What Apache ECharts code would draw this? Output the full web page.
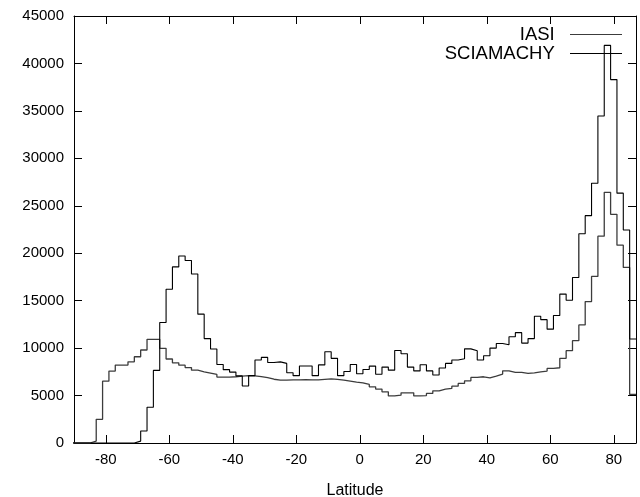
<!DOCTYPE html>
<html>
<head>
<meta charset="utf-8">
<script src="https://cdn.jsdelivr.net/npm/echarts@6/dist/echarts.min.js"></script>
<style>
html,body{margin:0;padding:0;background:#fff;}
#chart{width:640px;height:497px;}
</style>
</head>
<body>
<div id="chart"></div>
<script>
// Bin centres (degrees latitude), 2-degree bins
const latitudes = [-90,-88,-86,-84,-82,-80,-78,-76,-74,-72,-70,-68,-66,-64,-62,-60,-58,-56,-54,-52,-50,-48,-46,-44,-42,-40,-38,-36,-34,-32,-30,-28,-26,-24,-22,-20,-18,-16,-14,-12,-10,-8,-6,-4,-2,0,2,4,6,8,10,12,14,16,18,20,22,24,26,28,30,32,34,36,38,40,42,44,46,48,50,52,54,56,58,60,62,64,66,68,70,72,74,76,78,80,82,84,86];

const iasi = [0,0,0,200,2500,6520,7580,8210,8210,8560,9090,9800,10930,10930,9980,8850,8450,8200,7950,7680,7500,7370,7230,6950,6950,6980,7050,7100,7080,7000,6900,6720,6630,6630,6650,6650,6680,6650,6650,6700,6750,6700,6620,6520,6420,6340,6170,5920,5680,5390,4960,5040,5290,5290,4960,5000,5220,5500,5680,5750,5990,6280,6550,6910,6980,6870,7050,7260,7610,7440,7440,7330,7400,7500,7580,7860,7930,8920,9730,10780,12440,14900,17550,21800,26420,24100,20850,18500,5115];

const sciamachy = [0,0,0,0,0,0,0,0,0,0,200,1260,3770,7650,12700,16210,18560,19700,19240,17810,13580,11000,9900,8270,7730,7470,7070,6010,7100,8740,9020,8480,8550,8390,7400,7100,8110,8110,7100,8230,9620,8920,7100,7540,8270,7300,7750,8100,7250,8000,7680,9750,9400,8000,7600,8250,7600,7160,7900,8390,8740,8880,9920,9730,8740,9200,10000,10480,10360,11200,11630,10530,11000,13350,13000,12000,13430,15690,15050,17440,22050,23960,27380,34460,41900,38300,26330,22450,10960];

const xTicks = [-80,-60,-40,-20,0,20,40,60,80];
const seriesNames = ['IASI','SCIAMACHY'];

// histogram steps: each bin spans centre +/- half bin width
function histSteps(centres, values){
  const half = (centres[1]-centres[0])/2;
  const out = centres.map((c,i)=>[c-half, values[i]]);
  out.push([centres[centres.length-1]+half, values[values.length-1]]);
  return out;
}

const FONT = 'Liberation Sans, Arial, Helvetica, sans-serif';
const chart = echarts.init(document.getElementById('chart'), null, {renderer:'canvas'});
const axisLine = {show:true, onZero:false, lineStyle:{color:'#000', width:1}};
chart.setOption({
  animation:false,
  backgroundColor:'#fff',
  textStyle:{fontFamily:FONT},
  grid:{left:74, right:4, top:16, bottom:54, containLabel:false, outerBoundsMode:'none'},
  legend:{
    data:seriesNames,
    orient:'vertical',
    right:18, top:25,
    padding:0,
    align:'right',
    icon:'rect',
    itemWidth:52, itemHeight:1,
    itemGap:0,
    formatter: name => name + '  ',
    textStyle:{fontFamily:FONT, fontSize:18.5, lineHeight:18, color:'#000'},
    selectedMode:false
  },
  xAxis:[{
    type:'value', min:-90, max:87, position:'bottom',
    name:'Latitude', nameLocation:'middle', nameGap:40,
    nameTextStyle:{fontFamily:FONT, fontSize:16, color:'#000'},
    axisLine:axisLine,
    axisTick:{show:true, inside:true, length:8, customValues:xTicks, lineStyle:{color:'#000'}},
    axisLabel:{show:true, customValues:xTicks, margin:9, fontFamily:FONT, fontSize:15, color:'#000'},
    splitLine:{show:false}
  },{
    type:'value', min:-90, max:87, position:'top',
    axisLine:axisLine,
    axisTick:{show:true, inside:true, length:8, customValues:xTicks, lineStyle:{color:'#000'}},
    axisLabel:{show:false},
    splitLine:{show:false}
  }],
  yAxis:[{
    type:'value', min:0, max:45000, interval:5000, position:'left',
    axisLine:axisLine,
    axisTick:{show:true, inside:true, length:8, lineStyle:{color:'#000'}},
    axisLabel:{show:true, margin:10, fontFamily:FONT, fontSize:15, color:'#000', formatter: v => String(v)},
    splitLine:{show:false}
  },{
    type:'value', min:0, max:45000, interval:5000, position:'right',
    axisLine:axisLine,
    axisTick:{show:true, inside:true, length:8, lineStyle:{color:'#000'}},
    axisLabel:{show:false},
    splitLine:{show:false}
  }],
  series:[{
    name:'IASI', type:'line', step:'end', showSymbol:false, symbol:'none',
    color:'#3c3c3c',
    lineStyle:{color:'#3c3c3c', width:1.3},
    data:histSteps(latitudes, iasi), clip:true, z:3
  },{
    name:'SCIAMACHY', type:'line', step:'end', showSymbol:false, symbol:'none',
    color:'#000000',
    lineStyle:{color:'#000000', width:1.1},
    data:histSteps(latitudes, sciamachy), clip:true, z:4
  }]
});
</script>
</body>
</html>
